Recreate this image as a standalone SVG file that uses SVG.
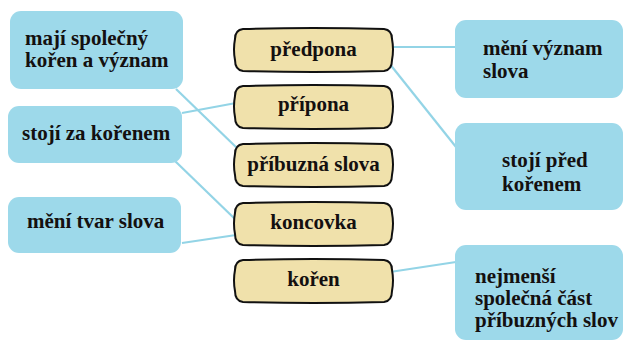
<svg xmlns="http://www.w3.org/2000/svg" width="625" height="350" viewBox="0 0 625 350" font-family="'Liberation Serif', 'Times New Roman', serif" font-weight="bold" font-size="21">
<style>
text{font-family:'Liberation Serif','Times New Roman',serif;font-weight:700;font-size:21px;fill:#141010;}
.blue{fill:#9dd9ea;}
.tan{fill:#f0e1ab;stroke:#111;stroke-width:2;}
.ln{stroke:#93d4e6;stroke-width:2.2;fill:none;}
</style>
<defs>
<path id="term" d="M8,0 Q78.5,-2 149,0 Q157,1 157,10 Q159,20.5 157,31 Q157,41 149,42 Q78.5,44 8,42 Q0,41 0,31 Q-2,20.5 0,10 Q0,1 8,0 Z"/>
</defs>
<rect width="625" height="350" fill="#fff"/>
<g id="connectors">
<line class="ln" x1="392" y1="47" x2="456" y2="47"/>
<line class="ln" x1="389" y1="63" x2="456" y2="147"/>
<line class="ln" x1="176" y1="89" x2="238" y2="149"/>
<line class="ln" x1="182" y1="113" x2="236" y2="103"/>
<line class="ln" x1="175" y1="161" x2="236" y2="220"/>
<line class="ln" x1="182" y1="243" x2="236" y2="235"/>
<line class="ln" x1="390" y1="272" x2="456" y2="262"/>
</g>
<g id="maji">
<rect class="blue" x="10" y="11" width="173" height="78" rx="11"/>
<text x="25" y="45">mají společný</text>
<text x="25" y="67">kořen a význam</text>
</g>
<g id="stoji-za">
<rect class="blue" x="8" y="106" width="174" height="57" rx="11"/>
<text x="22" y="140">stojí za kořenem</text>
</g>
<g id="meni-tvar">
<rect class="blue" x="8" y="197" width="173" height="56" rx="11"/>
<text x="27" y="228">mění tvar slova</text>
</g>
<g id="predpona">
<use href="#term" class="tan" x="235" y="29"/>
<text text-anchor="middle" x="313.5" y="56">předpona</text>
</g>
<g id="pripona">
<use href="#term" class="tan" x="235" y="86"/>
<text text-anchor="middle" x="313.5" y="111">přípona</text>
</g>
<g id="pribuzna">
<use href="#term" class="tan" x="235" y="144"/>
<text text-anchor="middle" x="313.5" y="171">příbuzná slova</text>
</g>
<g id="koncovka">
<use href="#term" class="tan" x="235" y="203"/>
<text text-anchor="middle" x="313.5" y="229">koncovka</text>
</g>
<g id="koren">
<use href="#term" class="tan" x="235" y="260"/>
<text text-anchor="middle" x="313.5" y="286">kořen</text>
</g>
<g id="meni-vyznam">
<rect class="blue" x="455" y="20" width="168" height="78" rx="11"/>
<text x="483" y="55">mění význam</text>
<text x="483" y="78">slova</text>
</g>
<g id="stoji-pred">
<rect class="blue" x="455" y="123" width="168" height="87" rx="11"/>
<text x="502" y="167">stojí před</text>
<text x="502" y="191">kořenem</text>
</g>
<g id="nejmensi">
<rect class="blue" x="455" y="245" width="168" height="95" rx="11"/>
<text x="475" y="283">nejmenší</text>
<text x="475" y="305">společná část</text>
<text x="475" y="327">příbuzných slov</text>
</g>
</svg>
